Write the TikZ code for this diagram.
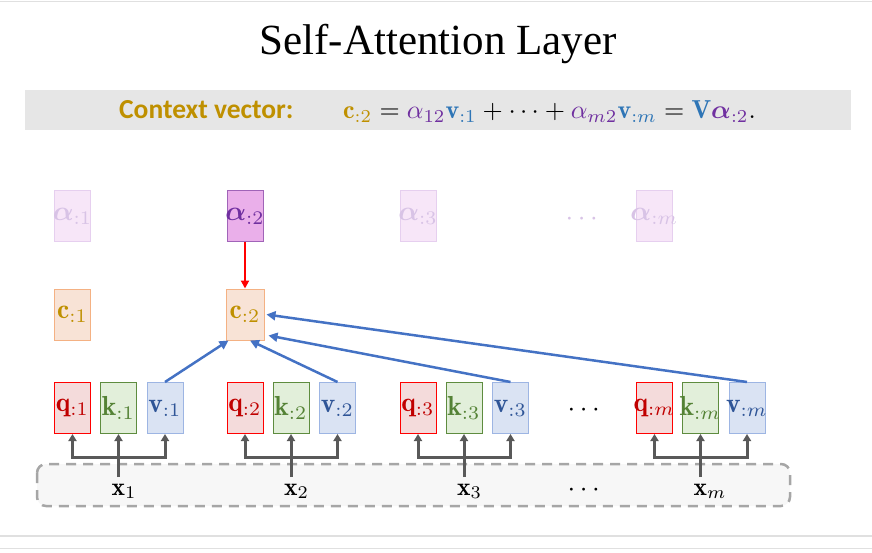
\documentclass[tikz,border=0pt]{standalone}
\usepackage{amsmath,bm}
\usepackage{graphicx}
\usepackage{fontspec}
\newfontfamily\titlefont{Liberation Serif}
\newfontfamily\calfont{Carlito}
\usetikzlibrary{arrows.meta,calc}
\newcommand{\mysc}[1]{\makebox[0pt]{\scalebox{2.75}{#1}}}
\newcommand{\myxsc}[1]{\scalebox{2.55}{#1}}
\definecolor{qfill}{HTML}{F4DBDB}
\definecolor{qdraw}{HTML}{FF0000}
\definecolor{qtext}{HTML}{C00000}
\definecolor{kfill}{HTML}{E2EFDA}
\definecolor{kdraw}{HTML}{5E8C3F}
\definecolor{ktext}{HTML}{548235}
\definecolor{vfill}{HTML}{DAE3F3}
\definecolor{vdraw}{HTML}{9DB5E3}
\definecolor{vtext}{HTML}{2F5597}
\definecolor{cfill}{HTML}{F8E3D6}
\definecolor{cdraw}{HTML}{F4B183}
\definecolor{gold}{HTML}{BF9000}
\definecolor{afill}{HTML}{EAAFEA}
\definecolor{adraw}{HTML}{A064B8}
\definecolor{purp}{HTML}{7030A0}
\definecolor{ffill}{HTML}{F7E6F8}
\definecolor{fdraw}{HTML}{E6CFEF}
\definecolor{ftext}{HTML}{D8C3E6}
\definecolor{bluearr}{HTML}{4472C4}
\definecolor{greyarr}{HTML}{595959}
\definecolor{dashgrey}{HTML}{A6A6A6}
\definecolor{dashfill}{HTML}{F7F7F7}
\definecolor{bandgrey}{HTML}{E6E6E6}
\definecolor{lineg}{HTML}{E0E0E0}
\definecolor{eqblue}{HTML}{2E75B6}
\tikzset{
  bx/.style={minimum width=36pt, minimum height=51pt, inner sep=0pt, line width=1pt},
  qb/.style={bx, fill=qfill, draw=qdraw, text=qtext},
  kb/.style={bx, fill=kfill, draw=kdraw, text=ktext},
  vb/.style={bx, fill=vfill, draw=vdraw, text=vtext},
  cb/.style={bx, fill=cfill, draw=cdraw, text=gold},
  ab/.style={bx, fill=afill, draw=adraw, text=purp},
  fb/.style={bx, fill=ffill, draw=fdraw, text=ftext},
  barrow/.style={draw=bluearr, line width=2.5pt, -{Triangle[length=9pt,width=9pt]}},
  garrow/.style={draw=greyarr, line width=3pt, -{Triangle[length=7pt,width=8pt]}},
  rarrow/.style={draw=red, line width=2pt, -{Triangle[length=8pt,width=8pt]}},
  xlab/.style={inner sep=0pt, anchor=base},
  dashbox/.style={draw=dashgrey, fill=dashfill, line width=2.5pt, dash pattern=on 10pt off 7pt, rounded corners=9pt},
}
\begin{document}
\begin{tikzpicture}[x=1pt,y=-1pt]
\path[use as bounding box] (0,0) rectangle (872,553);
\draw[lineg, line width=1.2pt] (0,1.5) -- (872,1.5);
\draw[lineg, line width=1.2pt] (0,536) -- (872,536);
\draw[lineg, line width=1.2pt] (0,548.5) -- (872,548.5);

\node[anchor=base, inner sep=0pt, font=\titlefont\fontsize{43}{50}\selectfont] (title) at (438,55) {Self-Attention Layer};

\fill[bandgrey] (25,90) rectangle (851,130);
\node[anchor=base west, inner sep=0pt, text=gold, font=\calfont\bfseries\fontsize{27.5}{30}\selectfont] (ctx) at (119,119) {Context vector:};
\node[anchor=base west, inner sep=0pt] (eq) at (343,119)
  {\scalebox{2.6}{$\textcolor{gold}{\mathbf{c}_{:2}} = \textcolor{purp}{\alpha_{12}}\textcolor{eqblue}{\mathbf{v}_{:1}} + \cdots + \textcolor{purp}{\alpha_{m2}}\textcolor{eqblue}{\mathbf{v}_{:m}} = \textcolor{eqblue}{\mathbf{V}}\textcolor{purp}{\bm{\alpha}_{:2}}.$}};

% alpha row
\node[fb] (a1) at (72.5,216) {\mysc{$\bm{\alpha}_{:1}$}};
\node[ab] (a2) at (245,216) {\mysc{$\bm{\alpha}_{:2}$}};
\node[fb] (a3) at (418,216) {\mysc{$\bm{\alpha}_{:3}$}};
\node[text=ftext] (adots) at (584,219) {\mysc{$\cdots$}};
\node[fb] (am) at (654.5,216) {\mysc{$\bm{\alpha}_{:m}$}};

% c row
\node[cb] (c1) at (72.5,314.5) {\mysc{$\mathbf{c}_{:1}$}};
\node[cb, minimum width=38pt] (c2) at (245,314.5) {\mysc{$\mathbf{c}_{:2}$}};

% dashed input box
\draw[dashbox] (37,464) rectangle (790,506);

% qkv groups
\foreach \qx/\i/\nm in {72.5/1/1, 245/2/2, 418/3/3, 654.5/m/m}{
  \node[qb] (q\nm) at (\qx,408) {\mysc{$\mathbf{q}_{:\i}$}};
  \node[kb] (k\nm) at (\qx+46,408) {\mysc{$\mathbf{k}_{:\i}$}};
  \node[vb] (v\nm) at (\qx+92.5,408) {\mysc{$\mathbf{v}_{:\i}$}};
  \node[xlab, anchor=base west] (x\nm) at (\qx+39,495) {\myxsc{$\mathbf{x}_{\i}$}};
  \coordinate (br\nm) at (\qx+46,457);
  \draw[garrow] (k\nm.south |- 0,477) -- (k\nm.south);
  \draw[garrow] (br\nm) -| (q\nm.south);
  \draw[garrow] (br\nm) -| (v\nm.south);
}
\node (qdots) at (586,410) {\mysc{$\cdots$}};
\node (xdots) at (586,490) {\mysc{$\cdots$}};

% arrows
\draw[rarrow] (a2.south) -- (c2.north);
\draw[barrow] (v1.north) -- ($(c2.south west)+(3,0)$);
\draw[barrow] (v2.north) -- ($(c2.south)+(5,0)$);
\draw[barrow] (v3.north) -- ([xshift=4pt,yshift=5pt]c2.south east);
\draw[barrow] (vm.north) -- ([xshift=2pt]c2.east);
\end{tikzpicture}
\end{document}
